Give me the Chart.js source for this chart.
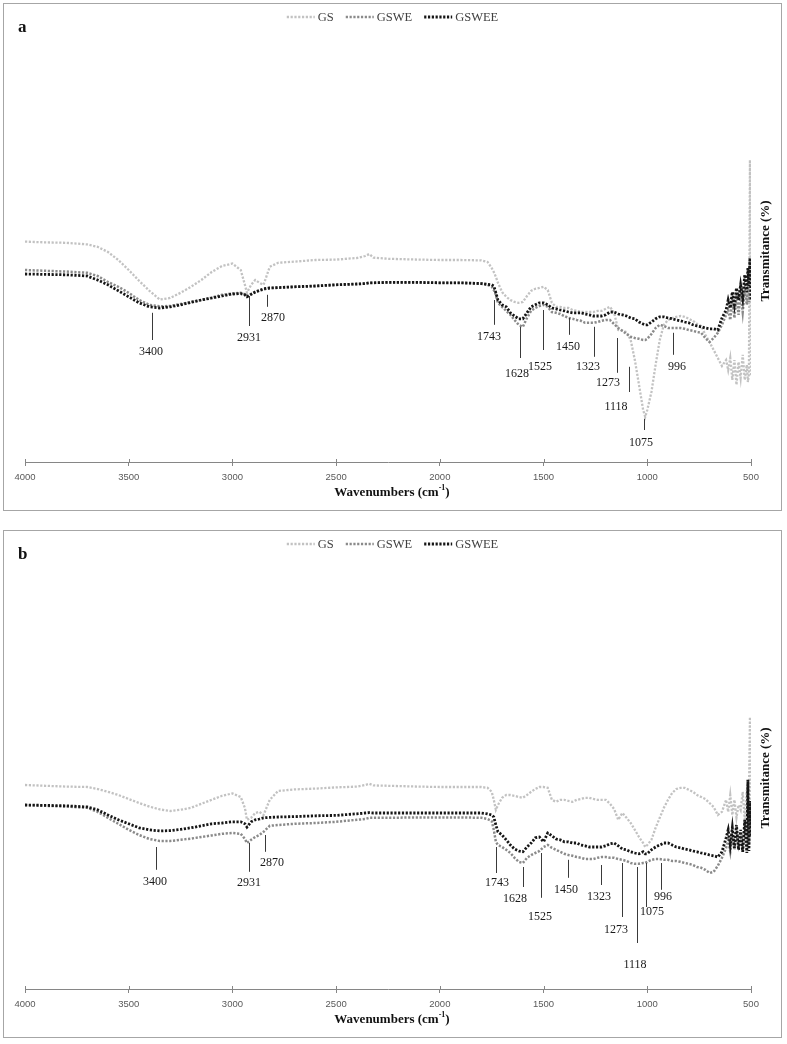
<!DOCTYPE html>
<html><head><meta charset="utf-8">
<script src="https://cdn.jsdelivr.net/npm/chart.js@4.4.1/dist/chart.umd.min.js"></script>
<style>
html,body{margin:0;padding:0;background:#fff;}
.panel{position:absolute;left:3px;width:777px;height:506px;border:1px solid #a6a6a6;background:#fff;}
#pa{top:3px;} #pb{top:530px;}
canvas{display:block;}
</style></head><body>
<div class="panel" id="pa"><canvas id="ca" width="777" height="506"></canvas></div>
<div class="panel" id="pb"><canvas id="cb" width="777" height="506"></canvas></div>
<script>
// wavenumber positions (cm-1) at which the curves were read
const wavenumbers = [
 4000,3900,3800,3700,3650,3600,3550,3500,3450,3400,
 3350,3300,3250,3200,3150,3100,3050,3000,2960,2940,
 2930,2910,2890,2870,2850,2820,2780,2700,2600,2500,
 2400,2360,2340,2320,2250,2100,2000,1900,1800,1770,
 1750,1740,1730,1720,1700,1680,1660,1640,1620,1600,
 1580,1560,1540,1520,1500,1480,1460,1440,1420,1400,
 1380,1360,1340,1320,1300,1280,1260,1240,1220,1200,
 1180,1160,1140,1120,1100,1080,1060,1040,1020,1010,
 1000,980,960,940,920,900,880,860,840,820,
 800,780,760,740,720,700,680,660,640,620,
 610,600,590,580,570,560,550,540,530,520,
 515,510,505,500];

const seriesNames = ['GS','GSWE','GSWEE'];

// Panel a — transmittance (arbitrary %)
const gsA = [
 55.1,54.9,54.8,54.4,53.8,52.5,50.5,48,45.3,42.8,
 40.6,41,42.3,43.8,45.5,47.5,49,49.6,48,44.3,
 42.3,44.3,45.5,44.8,44.3,48.8,49.8,50.1,50.5,50.6,
 51,51.5,52,51.1,50.8,50.6,50.5,50.5,50.4,50,
 48.5,47.5,46.3,44.8,42.5,41.3,40.5,40,39.8,40,
 41.5,42.8,43.3,43.5,43.8,43,39.8,38.8,38.8,38.5,
 38.5,38,37.8,37.5,37.5,37.5,37.5,37.8,37.8,38.3,
 38.8,37.3,33,32.8,32.5,30.5,25.5,19.3,13,11.3,
 13,17.5,24.3,30.5,34.3,35.5,36,36.3,36.5,36.3,
 35.8,35.3,34.5,34,31.8,30,28,26,24,25.5,
 23,26,20.5,25.5,19.3,25,21,26.8,20.5,24.3,
 20,22,75.5,21.3];
const gsweA = [
 48,47.8,47.6,47.3,46.5,45,43.8,42.3,40.5,39.3,
 38.9,39,39.5,40,40.5,41.1,41.8,42.1,42.3,41.9,
 41.5,42,42.5,42.8,43.1,43.5,43.6,43.8,44,44.3,
 44.5,44.6,44.8,44.8,44.9,44.9,44.8,44.8,44.6,44.3,
 43.8,43,41.8,39.8,38.8,37.8,36.8,35.5,34.3,33.8,
 36,37.8,38.5,39,39.3,38.8,37.5,37.3,37,36.5,
 36,35.8,35.5,35.3,34.8,34.8,34.8,35,35.3,35.5,
 35.5,34.5,33.5,32.8,32,31.3,31,30.8,30.5,30.5,
 30.8,32,33.5,34.3,34,33.5,33.5,33.5,33.5,33.3,
 33,32.8,32.5,32.3,31,30,31,32.3,34.3,36.8,
 38,35.5,41,36,41.8,36.8,42.3,37.5,43,39.3,
 45,40,50.5,43];
const gsweeA = [
 47,46.9,46.8,46.5,45.5,44.3,42.8,41.3,39.8,38.8,
 38.5,38.8,39.3,39.9,40.5,41,41.5,42,42.1,41.8,
 41.3,41.9,42.5,42.9,43.3,43.5,43.6,43.8,44,44.3,
 44.5,44.6,44.8,44.8,44.9,44.9,44.8,44.8,44.6,44.4,
 44.3,44,42.3,40.5,39.3,38.8,37.3,36.5,35.8,35.8,
 37.3,38.8,39.3,39.8,39.8,39.3,38.5,38.3,38,37.8,
 37.5,37.3,37.3,37.3,37,36.8,36.5,36.5,36.5,36.8,
 37.5,37.5,37,36.8,36.5,36,35.8,35,34.5,34.3,
 34.3,35,35.8,36.3,36.3,36,35.8,35.5,35.3,35,
 34.8,34.3,34,33.8,33.5,33.3,33.3,33,36,38,
 40.5,38.5,42.5,39.3,43.5,40.5,44.3,41,46.8,42.5,
 48.5,44,51,40.5];

// Panel b
const gsB = [
 51,50.8,50.6,50.5,50,49.3,48.5,47.5,46.5,45.6,
 44.9,44.5,44.8,45.3,46.3,47.3,48.3,48.9,48,45.3,
 42.3,42.8,44,44.3,43.5,47.3,49.5,49.9,50.1,50.4,
 50.6,51,51.3,50.9,50.8,50.6,50.5,50.5,50.5,50.3,
 49.3,47.3,44.8,46,47.8,48.5,48.5,48.3,48,47.8,
 48.5,49.3,50,50.5,50.5,50.3,47.3,46.8,47.3,47.3,
 47,46.8,47.3,47.5,47.8,47.8,47.5,47.3,47.3,47.3,
 46.3,45,42.3,44,42.8,41.5,39.8,38,36.5,35.5,
 36,37.3,40.3,42.8,45.3,47.3,49,50,50.3,50.3,
 49.8,49.3,48.5,48,47.5,46.5,45.5,43.5,44.3,47.3,
 44.3,48.5,43.5,47.3,42.8,46,44.8,49.3,42.3,49.8,
 43,48,68,44];
const gsweB = [
 46,45.8,45.6,45.3,44.3,42.8,41.3,39.8,38.5,37.5,
 37,37,37.3,37.6,38,38.4,38.8,39,38.8,37.5,
 36.5,37.3,38,38.5,39.3,40.8,41,41.3,41.5,41.8,
 42.3,42.5,42.8,42.8,42.8,42.9,42.9,42.9,42.8,42.5,
 42,39.8,36.8,36,35.5,34.8,34,32.8,31.8,31.5,
 32.8,33.5,34,34.5,35.5,36,35.3,34.8,34.3,33.8,
 33.5,33.3,33,32.8,32.5,32.5,32.5,32.8,33,33,
 32.8,32.8,32.5,32.3,32,31.5,31.3,31.3,31.5,31.5,
 31.8,32.3,32.5,32.5,32.3,32.3,32,32,31.8,31.5,
 31.3,31,30.5,30.3,29.8,29,29.3,30.8,32.8,35.3,
 37.3,34.3,38.5,34.8,39.3,36,38.5,34.8,40.3,35.3,
 51,36,45,40];
const gsweeB = [
 46,45.9,45.8,45.5,44.8,43.5,42.3,41.3,40.3,39.8,
 39.5,39.6,39.9,40.3,40.8,41.3,41.5,41.8,41.8,41.3,
 40.5,41.8,42.3,42.5,42.8,42.9,43,43.1,43.3,43.4,
 43.8,44,44.1,44,44,44,44,44,44,43.8,
 43.5,43,41,39.3,38.5,37.3,36,35,34.5,34.3,
 35.5,36.5,37.8,38,36.8,39,38.3,37.5,37.3,36.8,
 36.8,36.5,36.5,36,35.8,35.5,35.5,35.5,35.5,35.8,
 36.3,36.5,35.8,35,34.8,34.3,34,33.8,34.3,33.8,
 33.8,34.8,35.5,36,36.5,36.5,36,35.5,35.3,35,
 34.8,34.5,34.3,34,33.8,33.5,33.3,33,34.3,37.8,
 39.8,36,40.3,35.3,41,34.8,39.8,34.3,42.3,34,
 52.3,34.5,47,38];

const xTicks = [4000,3500,3000,2500,2000,1500,1000,500];
const peakLabels = ['3400','2931','2870','1743','1628','1525','1450','1323','1273','1118','1075','996'];

// annotation leader layout: [line x, line top, line bottom, label x, label y] in axis units
const marksA = [
 [3388,37.3,30.5,3393,27.5],[2920,41.5,34,2920,31],[2833,41.8,38.8,2804,36],
 [1739,40.5,34.3,1763,31.3],[1614,33.8,26,1628,22],[1503,38,28,1517,23.8],
 [1377,36,31.8,1382,28.8],[1257,33.8,26.3,1286,23.8],[1146,31,22.3,1189,19.8],
 [1088,23.8,17.5,1151,13.8],[1016,10.8,8,1030,4.8],[876,32.3,26.8,857,23.8]];
const marksB = [
 [3368,35.5,29.8,3373,26.8],[2920,36.5,29.3,2920,26.5],[2843,38.5,34.3,2809,31.5],
 [1729,35.5,29,1725,26.5],[1599,30.5,25.5,1638,22.5],[1512,34,22.8,1517,18],
 [1382,32.3,27.8,1392,24.8],[1223,31,26,1233,23],[1122,31.5,18,1151,14.8],
 [1050,30.5,11.5,1059,6],[1006,31.5,20.5,977,19.3],[934,31.5,24.8,924,23]];

const colors = ['#c2c2c2','#8a8a8a','#161616'];
const widthsLine = [2.3, 2.5, 2.8];
const SERIF = '"Liberation Serif","Times New Roman",serif';

const decor = {
  id:'decor',
  afterDraw(chart, args, opts){
    const ctx = chart.ctx, ca = chart.chartArea, xs = chart.scales.x, ys = chart.scales.y;
    ctx.save();
    ctx.strokeStyle = '#868686'; ctx.lineWidth = 1; ctx.setLineDash([]);
    xTicks.forEach(v => {
      const px = Math.round(xs.getPixelForValue(v)) + 0.5;
      ctx.beginPath(); ctx.moveTo(px, ca.bottom - 3); ctx.lineTo(px, ca.bottom); ctx.stroke();
    });
    ctx.strokeStyle = '#3a3a3a';
    ctx.fillStyle = '#1a1a1a';
    ctx.font = '12px ' + SERIF;
    ctx.textAlign = 'center'; ctx.textBaseline = 'middle';
    peakLabels.forEach((t, i) => {
      const m = opts.marks[i];
      const lx = Math.round(xs.getPixelForValue(m[0])) + 0.5;
      ctx.beginPath(); ctx.moveTo(lx, ys.getPixelForValue(m[1])); ctx.lineTo(lx, ys.getPixelForValue(m[2])); ctx.stroke();
      ctx.fillText(t, xs.getPixelForValue(m[3]), ys.getPixelForValue(m[4]));
    });
    ctx.font = '12.5px ' + SERIF;
    const sw = 28, g1 = 3, g2 = 12;
    const widths = seriesNames.map(n => sw + g1 + ctx.measureText(n).width);
    const total = widths.reduce((a,b)=>a+b,0) + g2*(seriesNames.length-1);
    let lx = chart.width/2 - total/2;
    const ly = 13;
    seriesNames.forEach((n, i) => {
      ctx.strokeStyle = colors[i]; ctx.lineWidth = widthsLine[i]; ctx.setLineDash([2.2,1.6]);
      ctx.beginPath(); ctx.moveTo(lx, ly); ctx.lineTo(lx + sw, ly); ctx.stroke();
      ctx.setLineDash([]);
      ctx.fillStyle = '#404040'; ctx.textAlign = 'left';
      ctx.fillText(n, lx + sw + g1, ly + 0.5);
      lx += widths[i] + g2;
    });
    ctx.fillStyle = '#111'; ctx.font = 'bold 17px ' + SERIF; ctx.textAlign = 'left';
    ctx.fillText(opts.letter, 14, 24);
    const p1 = 'Wavenumbers (cm', p2 = '-1', p3 = ')';
    const fBig = 'bold 13px ' + SERIF, fSm = 'bold 8px ' + SERIF;
    ctx.font = fBig; const w1 = ctx.measureText(p1).width, w3 = ctx.measureText(p3).width;
    ctx.font = fSm; const w2 = ctx.measureText(p2).width;
    let tx = 388 - (w1 + w2 + w3)/2; const ty = ca.bottom + 31;
    ctx.fillStyle = '#111';
    ctx.font = fBig; ctx.fillText(p1, tx, ty); tx += w1;
    ctx.font = fSm; ctx.fillText(p2, tx, ty - 5); tx += w2;
    ctx.font = fBig; ctx.fillText(p3, tx, ty);
    ctx.translate(762, ca.bottom - 211);
    ctx.rotate(-Math.PI/2);
    ctx.textAlign = 'center';
    ctx.font = 'bold 13px ' + SERIF;
    ctx.fillText('Transmitance (%)', 0, 0);
    ctx.restore();
  }
};

function makeChart(id, letter, series, marks){
  const datasets = series.map((vals, i) => ({
    label: seriesNames[i],
    data: wavenumbers.map((w, j) => ({x: w, y: vals[j]})),
    borderColor: colors[i],
    borderWidth: widthsLine[i],
    borderDash: [2.2, 1.6],
    pointRadius: 0,
    tension: 0,
    fill: false,
    order: 2 - i
  }));
  return new Chart(document.getElementById(id), {
    type: 'line',
    data: { datasets },
    options: {
      responsive: false,
      animation: false,
      devicePixelRatio: 1,
      layout: { padding: { left: 21, right: 30, top: 38, bottom: 28 } },
      plugins: { legend: { display: false }, tooltip: { enabled: false }, decor: { letter, marks } },
      scales: {
        x: {
          type: 'linear', reverse: true, min: 500, max: 4000,
          afterFit: s => { s.height = 20; },
          afterBuildTicks: s => { s.ticks = xTicks.map(v => ({value: v})); },
          ticks: { autoSkip: false, maxRotation: 0, padding: 6, color: '#595959',
                   font: { family: '"Liberation Sans", Arial, sans-serif', size: 9.5 },
                   callback: v => String(v) },
          grid: { display: true, drawOnChartArea: false, drawTicks: true, tickLength: 4, color: '#868686' },
          border: { display: true, color: '#868686', width: 1 }
        },
        y: { display: false, min: 0, max: 105 }
      }
    },
    plugins: [decor]
  });
}

makeChart('ca', 'a', [gsA, gsweA, gsweeA], marksA);
makeChart('cb', 'b', [gsB, gsweB, gsweeB], marksB);
</script>
</body></html>
